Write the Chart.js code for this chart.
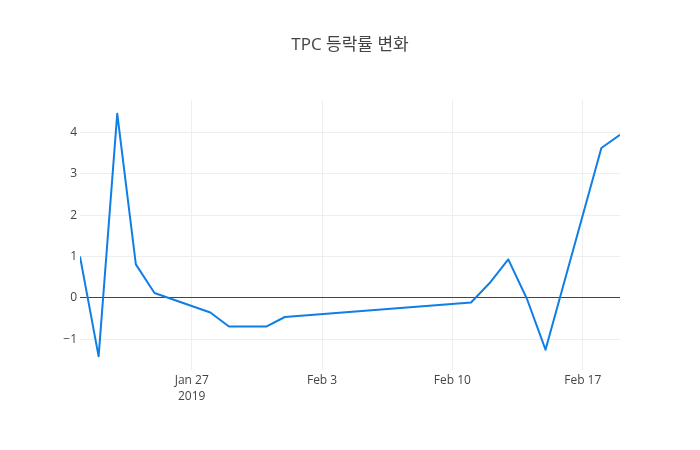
<!DOCTYPE html>
<html>
<head>
<meta charset="utf-8">
<script src="https://cdn.jsdelivr.net/npm/chart.js@4.4.1/dist/chart.umd.min.js"></script>
<style>
  html, body { margin: 0; padding: 0; background: #fff; }
  canvas { display: block; }
</style>
</head>
<body>
<canvas id="chart" width="700" height="450"></canvas>
<script>
// TPC daily change rate (%)
const dates = [
  '2019-01-21', '2019-01-22', '2019-01-23', '2019-01-24', '2019-01-25',
  '2019-01-28', '2019-01-29', '2019-01-31', '2019-02-01',
  '2019-02-11', '2019-02-12', '2019-02-13', '2019-02-14', '2019-02-15',
  '2019-02-18', '2019-02-19'
];
const changes = [
  1.0, -1.41, 4.45, 0.81, 0.12,
  -0.35, -0.69, -0.69, -0.46,
  -0.11, 0.36, 0.93, -0.02, -1.25,
  3.62, 3.94
];
const xTickDates = ['2019-01-27', '2019-02-03', '2019-02-10', '2019-02-17'];
const yTicks = [-1, 0, 1, 2, 3, 4];
const titleText = 'TPC 등락률 변화';

const MONTHS = ['Jan', 'Feb', 'Mar', 'Apr', 'May', 'Jun', 'Jul', 'Aug', 'Sep', 'Oct', 'Nov', 'Dec'];
const origin = Date.parse(dates[0]);
const toDay = (d) => (Date.parse(d) - origin) / 86400000;

const FONT = '"Open Sans", "Noto Sans CJK KR", sans-serif';
const TEXT = '#444';

const titlePlugin = {
  id: 'plotTitle',
  afterDraw(chart) {
    const { ctx } = chart;
    ctx.save();
    ctx.fillStyle = TEXT;
    ctx.font = '17px ' + FONT;
    ctx.textAlign = 'center';
    ctx.textBaseline = 'middle';
    ctx.fillText(titleText, chart.width / 2, 45);
    ctx.restore();
  }
};

new Chart(document.getElementById('chart'), {
  type: 'line',
  data: {
    datasets: [{
      data: dates.map((d, i) => ({ x: toDay(d), y: changes[i] })),
      borderColor: '#0f7fe6',
      borderWidth: 2,
      borderJoinStyle: 'round',
      borderCapStyle: 'butt',
      pointRadius: 0,
      tension: 0,
      fill: false
    }]
  },
  options: {
    responsive: false,
    animation: false,
    layout: { padding: { top: 100, right: 80, left: 0, bottom: 0 } },
    plugins: {
      legend: { display: false },
      tooltip: { enabled: false }
    },
    scales: {
      x: {
        type: 'linear',
        min: 0,
        max: toDay(dates[dates.length - 1]),
        afterBuildTicks(scale) {
          scale.ticks = xTickDates.map((d) => ({ value: toDay(d) }));
        },
        afterFit(scale) { scale.height = 80; },
        grid: { color: '#eee', lineWidth: 1, drawTicks: false },
        border: { display: false },
        ticks: {
          color: TEXT,
          font: { family: FONT, size: 12, lineHeight: 1.35 },
          padding: 2,
          maxRotation: 0,
          callback(value, index) {
            const dt = new Date(origin + value * 86400000);
            const label = MONTHS[dt.getUTCMonth()] + ' ' + dt.getUTCDate();
            return index === 0 ? [label, String(dt.getUTCFullYear())] : label;
          }
        }
      },
      y: {
        min: -1.74,
        max: 4.78,
        afterBuildTicks(scale) {
          scale.ticks = yTicks.map((v) => ({ value: v }));
        },
        afterFit(scale) { scale.width = 80; },
        grid: {
          color: (c) => (c.tick && c.tick.value === 0 ? '#444' : '#eee'),
          lineWidth: 1,
          drawTicks: false
        },
        border: { display: false },
        ticks: {
          color: TEXT,
          font: { family: FONT, size: 12 },
          padding: 3,
          callback: (v) => (v < 0 ? '\u2212' + Math.abs(v) : String(v))
        }
      }
    }
  },
  plugins: [titlePlugin]
});
</script>
</body>
</html>
